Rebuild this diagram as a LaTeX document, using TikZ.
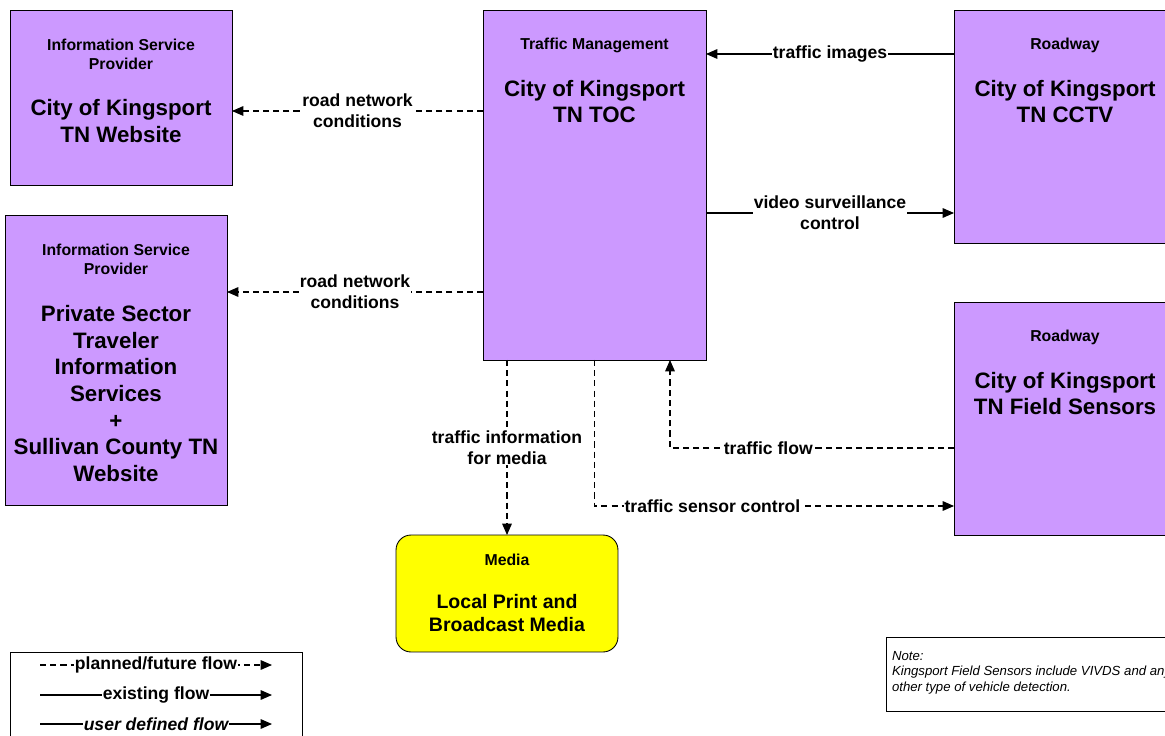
\documentclass[tikz,border=0pt]{standalone}
\usepackage{fontspec}
\setmainfont{Liberation Sans}
\usetikzlibrary{calc,arrows.meta}

\definecolor{entpurple}{HTML}{CC99FF}
\definecolor{entyellow}{HTML}{FFFF00}

\begin{document}
\begin{tikzpicture}[x=0.02cm, y=-0.02cm, inner sep=0pt, outer sep=0pt,
    ent/.style={draw, line width=0.5pt, fill=entpurple},
    hdr/.style={align=center, font=\fontsize{9}{10.8}\selectfont\bfseries},
    bigname/.style={align=center, font=\fontsize{12.7}{15.2}\selectfont\bfseries},
    flowlbl/.style={fill=white, inner sep=0.4pt, align=center, font=\fontsize{10}{12}\selectfont\bfseries},
    planned/.style={line width=0.6pt, dash pattern=on 3.5pt off 2.3pt, -{Triangle[length=6.5pt,width=5.5pt]}},
    existing/.style={line width=0.6pt, -{Triangle[length=6.5pt,width=5.5pt]}}]

    \useasboundingbox (0,0) rectangle (1165,736);

    % website
    \node[ent, minimum width=4.44cm, minimum height=3.5cm] (isp_web) at (121,97.5) {};
    \node[hdr] (isp_web_hdr) at ($(isp_web.north) + (0,44.5)$) {Information Service\\Provider};
    \node[bigname] (isp_web_name) at ($(isp_web.north) + (0,111)$) {City of Kingsport\\TN Website};

    % private sector
    \node[ent, minimum width=4.44cm, minimum height=5.8cm] (isp_pvt) at (116,360) {};
    \node[hdr] (isp_pvt_hdr) at ($(isp_pvt.north) + (0,44.5)$) {Information Service\\Provider};
    \node[bigname] (isp_pvt_name) at ($(isp_pvt.north) + (0,178.5)$)
    {Private Sector\\Traveler\\Information\\Services\\+\\Sullivan County TN\\Website};

    % toc
    \node[ent, minimum width=4.46cm, minimum height=7cm] (toc) at (594.5,185) {};
    \node[hdr] (toc_hdr) at ($(toc.north) + (0,35)$) {Traffic Management};
    \node[bigname] (toc_name) at ($(toc.north) + (0,91.5)$) {City of Kingsport\\TN TOC};

    % cctv
    \node[ent, minimum width=4.44cm, minimum height=4.66cm] (cctv) at (1065,126.5) {};
    \node[hdr] (cctv_hdr) at ($(cctv.north) + (0,35)$) {Roadway};
    \node[bigname] (cctv_name) at ($(cctv.north) + (0,91.5)$) {City of Kingsport\\TN CCTV};

    % field sensors
    \node[ent, minimum width=4.44cm, minimum height=4.66cm] (sensors) at (1065,418.5) {};
    \node[hdr] (sensors_hdr) at ($(sensors.north) + (0,35)$) {Roadway};
    \node[bigname] (sensors_name) at ($(sensors.north) + (0,91.5)$) {City of Kingsport\\TN Field Sensors};

    % media
    \node[draw, line width=0.5pt, fill=entyellow, rounded corners=0.3cm,
          minimum width=4.44cm, minimum height=2.34cm] (media) at (507,593.5) {};
    \node[hdr] (media_hdr) at ($(media.north) + (0,25)$) {Media};
    \node[bigname, font=\fontsize{11.1}{13.6}\selectfont\bfseries] (media_name)
    at ($(media.north) + (0,78)$) {Local Print and\\Broadcast Media};

    % flows
    \coordinate (web_in) at ($(isp_web.east) + (0,13.5)$);
    \draw[planned] (toc.west |- web_in) -- node[flowlbl] {road network\\conditions} (web_in);

    \coordinate (pvt_in) at ($(isp_pvt.east) + (0,-68)$);
    \draw[planned] (toc.west |- pvt_in) -- node[flowlbl] {road network\\conditions} (pvt_in);

    \coordinate (cctv_out) at ($(cctv.west) + (0,-72.5)$);
    \draw[existing] (cctv_out) -- node[flowlbl] {traffic images} (toc.east |- cctv_out);

    \coordinate (cctv_in) at ($(cctv.west) + (0,86.5)$);
    \draw[existing] (toc.east |- cctv_in) -- node[flowlbl] {video surveillance\\control} (cctv_in);

    \draw[planned] (media.north |- toc.south) -- node[flowlbl] {traffic information\\for media} (media.north);

    \coordinate (sens_in) at ($(sensors.west) + (0,87.5)$);
    \draw[planned] (toc.south) |- node[flowlbl, pos=0.664] {traffic sensor control} (sens_in);

    \coordinate (sens_out) at ($(sensors.west) + (0,29.5)$);
    \coordinate (toc_flow_in) at ($(toc.south) + (75.5,0)$);
    \draw[planned] (sens_out) -| node[flowlbl, pos=0.327] {traffic flow} (toc_flow_in);

    % legend
    \node[draw, line width=0.5pt, minimum width=5.84cm, minimum height=1.96cm] (legend) at (156,701) {};
    \coordinate (leg_plan_s) at (40,665);
    \coordinate (leg_plan_e) at (272,665);
    \draw[planned] (leg_plan_s) -- node[flowlbl] {planned/future flow} (leg_plan_e);
    \coordinate (leg_exist_s) at (40,695);
    \coordinate (leg_exist_e) at (272,695);
    \draw[existing] (leg_exist_s) -- node[flowlbl] {existing flow} (leg_exist_e);
    \coordinate (leg_user_s) at (40,724);
    \coordinate (leg_user_e) at (272,724);
    \draw[existing] (leg_user_s) -- node[flowlbl, font=\fontsize{10}{12}\selectfont\bfseries\itshape] {user defined flow} (leg_user_e);

    % note
    \node[draw, line width=0.5pt, fill=white, minimum width=5.88cm, minimum height=1.48cm] (note) at (1033,674) {};
    \node[anchor=north west, align=left, font=\fontsize{7.5}{9}\selectfont\itshape] (note_txt)
    at ($(note.north west) + (6,14)$)
    {Note:\\Kingsport Field Sensors include VIVDS and any\\other type of vehicle detection.};

\end{tikzpicture}
\end{document}
